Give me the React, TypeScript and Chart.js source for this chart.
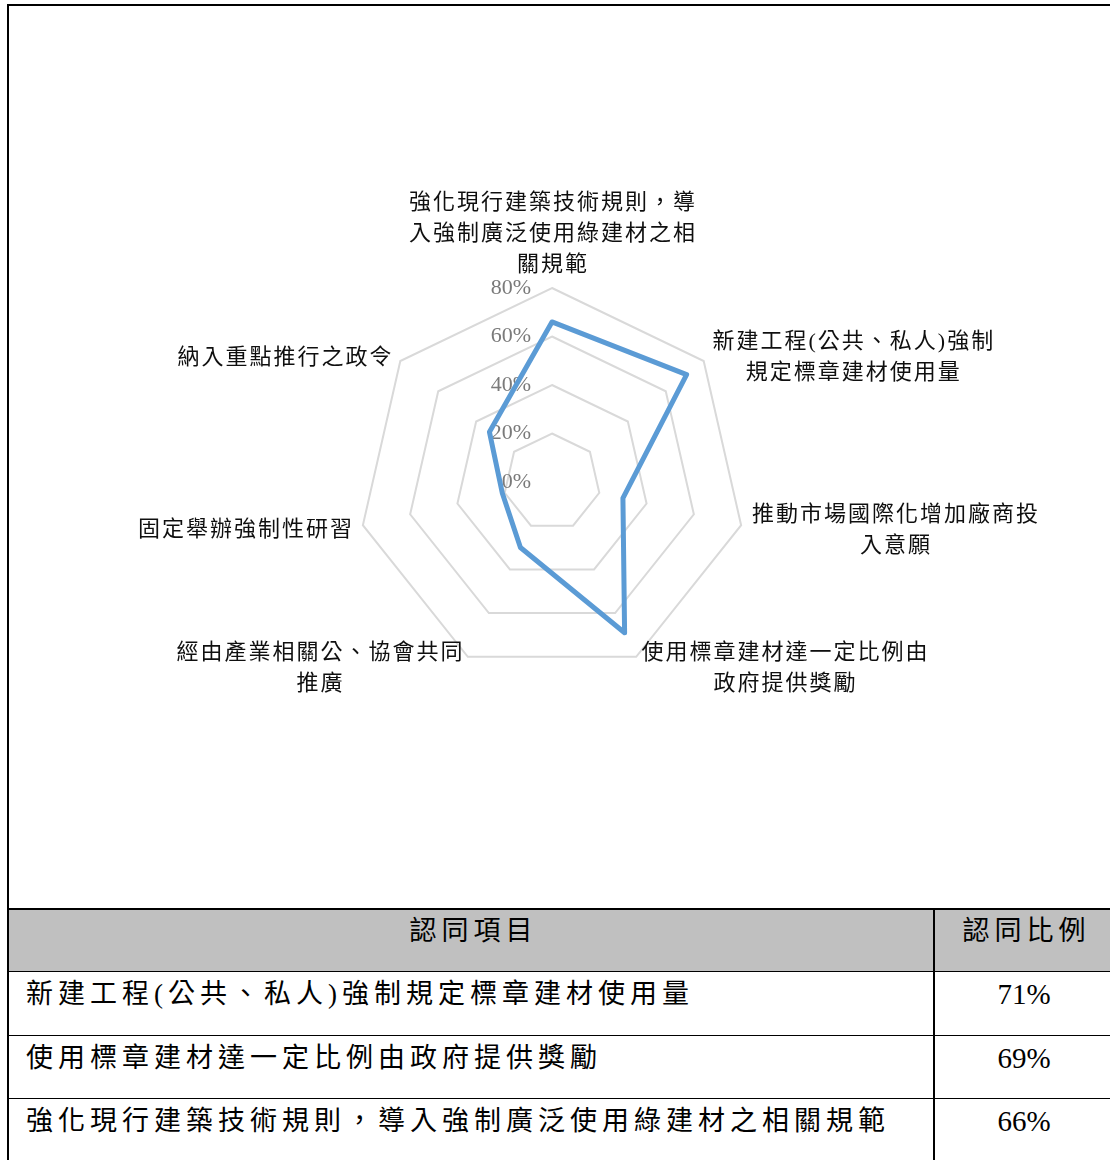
import React, { useEffect, useRef } from "react";
import { Chart, registerables } from "chart.js";

Chart.register(...registerables);

// ---- data ----
const categoryLines: string[][] = [
  ["強化現行建築技術規則，導", "入強制廣泛使用綠建材之相", "關規範"],
  ["新建工程(公共、私人)強制", "規定標章建材使用量"],
  ["推動市場國際化增加廠商投", "入意願"],
  ["使用標章建材達一定比例由", "政府提供獎勵"],
  ["經由產業相關公、協會共同", "推廣"],
  ["固定舉辦強制性研習"],
  ["納入重點推行之政令"],
];
const agreeValues: number[] = [66, 71, 30, 69, 30, 21, 33];
const axisMin = 0;
const axisMax = 80;
const axisStep = 20;

const tableHeaders: string[] = ["認同項目", "認同比例"];
const tableItems: string[] = [
  "新建工程(公共、私人)強制規定標章建材使用量",
  "使用標章建材達一定比例由政府提供獎勵",
  "強化現行建築技術規則，導入強制廣泛使用綠建材之相關規範",
];
const tablePercents: string[] = ["71%", "69%", "66%"];

// ---- styles ----
const LABEL_FONT = "22px 'Liberation Serif', 'Noto Sans CJK TC', serif";
const TICK_FONT = "22px 'Liberation Serif', 'Times New Roman', serif";
const CELL_FONT = "'Liberation Serif', 'Noto Sans CJK TC', serif";

const overlayPlugin = {
  id: "excelOverlay",
  beforeDatasetsDraw(chart: any) {
    const scale = chart.scales.r;
    const ctx = chart.ctx as CanvasRenderingContext2D;
    ctx.save();
    ctx.font = TICK_FONT;
    ctx.fillStyle = "#7a7a7a";
    ctx.textAlign = "right";
    ctx.textBaseline = "middle";
    scale.ticks.forEach((t: any) => {
      const d = scale.getDistanceFromCenterForValue(t.value);
      ctx.fillText(`${t.value}%`, scale.xCenter - 21, scale.yCenter - d);
    });
    ctx.restore();
  },
  afterDraw(chart: any) {
    const scale = chart.scales.r;
    const ctx = chart.ctx as CanvasRenderingContext2D;
    const labels = chart.data.labels as string[][];
    const lineH = 31;
    ctx.save();
    ctx.font = LABEL_FONT;
    (ctx as any).letterSpacing = "2px";
    ctx.fillStyle = "#0f0f0f";
    ctx.textAlign = "center";
    ctx.textBaseline = "middle";
    labels.forEach((lines, i) => {
      const pos = scale.getPointPosition(i, scale.drawingArea + 10);
      const dx = pos.x - scale.xCenter;
      const dy = pos.y - scale.yCenter;
      const widths = lines.map((l) => ctx.measureText(l).width);
      const blockW = Math.max(...widths);
      const blockH = lines.length * lineH;
      let cx: number;
      let top: number;
      if (Math.abs(dx) < 5) {
        cx = pos.x;
        top = dy < 0 ? pos.y - blockH : pos.y;
      } else {
        cx = dx > 0 ? pos.x + blockW / 2 : pos.x - blockW / 2;
        top = pos.y - blockH / 2;
      }
      lines.forEach((l, k) => {
        ctx.fillText(l, cx + 1, top + lineH / 2 + k * lineH + 3);
      });
    });
    ctx.restore();
  },
};

function RadarChart() {
  const ref = useRef<HTMLCanvasElement | null>(null);
  useEffect(() => {
    if (!ref.current) return;
    const chart = new Chart(ref.current, {
      type: "radar",
      data: {
        labels: categoryLines as any,
        datasets: [
          {
            data: agreeValues,
            borderColor: "#5b9bd5",
            borderWidth: 5,
            borderJoinStyle: "round",
            pointRadius: 0,
            pointHoverRadius: 0,
            fill: false,
            tension: 0,
          },
        ],
      },
      options: {
        responsive: false,
        animation: false,
        layout: { padding: { left: 358, right: 364, top: 288, bottom: 232 } },
        plugins: {
          legend: { display: false },
          tooltip: { enabled: false },
          title: { display: false },
        },
        scales: {
          r: {
            min: axisMin,
            max: axisMax,
            ticks: {
              stepSize: axisStep,
              display: false,
              showLabelBackdrop: false,
            },
            grid: { color: "#d9d9d9", lineWidth: 2, circular: false },
            angleLines: { display: false },
            pointLabels: { display: false },
          },
        },
      },
      plugins: [overlayPlugin],
    });
    return () => chart.destroy();
  }, []);
  return (
    <canvas
      ref={ref}
      width={1110}
      height={908}
      style={{ position: "absolute", left: 0, top: 0, display: "block" }}
    />
  );
}

export default function App() {
  const headerTop = 908;
  const headerH = 63;
  const rowTop0 = 971;
  const rowH = 63.5;
  const colX = 933;
  const cellText: React.CSSProperties = {
    position: "absolute",
    fontFamily: CELL_FONT,
    fontSize: 27,
    letterSpacing: 5,
    color: "#000",
    lineHeight: "30px",
    height: 30,
    whiteSpace: "nowrap",
  };
  return (
    <div
      style={{
        position: "absolute",
        left: 0,
        top: 0,
        width: 1110,
        height: 1160,
        overflow: "hidden",
        background: "#fff",
      }}
    >
      {/* outer box */}
      <div
        style={{
          position: "absolute",
          left: 7,
          top: 4,
          width: 1200,
          height: 1300,
          borderLeft: "2px solid #000",
          borderTop: "2px solid #000",
        }}
      />
      <RadarChart />
      {/* table header */}
      <div
        style={{
          position: "absolute",
          left: 9,
          top: headerTop + 2,
          width: 1110,
          height: headerH - 2,
          background: "#c0c0c0",
        }}
      />
      <div style={{ position: "absolute", left: 7, top: headerTop, width: 1110, height: 2, background: "#000" }} />
      <div style={{ position: "absolute", left: 7, top: rowTop0, width: 1110, height: 1, background: "#000" }} />
      {tableItems.map((_, k) =>
        k > 0 ? (
          <div
            key={"ln" + k}
            style={{ position: "absolute", left: 7, top: Math.round(rowTop0 + k * rowH), width: 1110, height: 1, background: "#000" }}
          />
        ) : null
      )}
      <div style={{ position: "absolute", left: colX, top: headerTop, width: 2, height: 300, background: "#000" }} />
      {/* header text */}
      <div style={{ ...cellText, left: 9, width: colX - 9, top: 931 - 15, textAlign: "center", textIndent: 5 }}>
        {tableHeaders[0]}
      </div>
      <div style={{ ...cellText, left: colX + 2, width: 178, top: 931 - 15, textAlign: "center", textIndent: 5 }}>
        {tableHeaders[1]}
      </div>
      {tableItems.map((item, k) => (
        <React.Fragment key={"row" + k}>
          <div style={{ ...cellText, left: 26, top: Math.round(994 + k * rowH) - 15 }}>{item}</div>
          <div
            style={{
              ...cellText,
              left: colX + 2,
              width: 178,
              top: Math.round(994 + k * rowH) - 15,
              textAlign: "center",
              letterSpacing: 0,
              fontSize: 29,
            }}
          >
            {tablePercents[k]}
          </div>
        </React.Fragment>
      ))}
    </div>
  );
}
